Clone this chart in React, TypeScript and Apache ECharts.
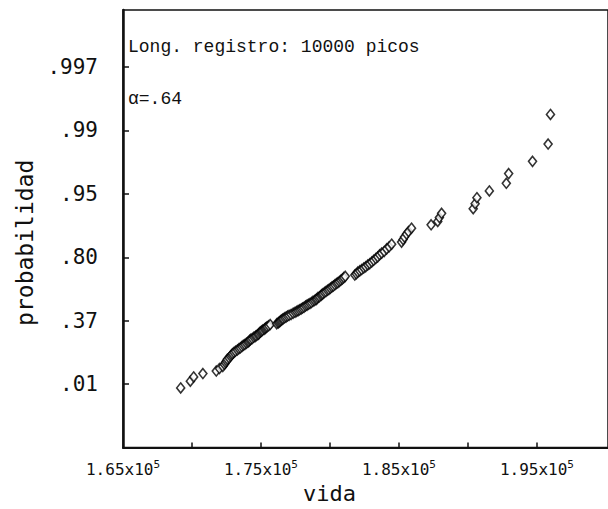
import React, { useEffect, useRef } from 'react';
import * as echarts from 'echarts';

// vida (x) and Gumbel reduced variate (y) for each plotted peak
const vida = [
  169180, 169880, 170120, 170790, 171760, 171990, 172230, 172350, 172430, 172500,
  172560, 172690, 172790, 172860, 172930, 173040, 173150, 173290, 173400, 173510,
  173620, 173720, 173830, 173940, 174050, 174120, 174190, 174260, 174370, 174480,
  174590, 174660, 174770, 174840, 174910, 174990, 175060, 175130, 175240, 175310,
  175380, 175450, 175560, 175670, 176140, 176250, 176320, 176390, 176460, 176540,
  176610, 176720, 176820, 176930, 177040, 177180, 177330, 177470, 177580, 177690,
  177800, 177910, 178010, 178120, 178230, 178340, 178440, 178550, 178660, 178770,
  178880, 178990, 179060, 179130, 179240, 179350, 179420, 179490, 179600, 179710,
  179820, 179920, 180030, 180140, 180250, 180360, 180470, 180570, 180680, 180790,
  180900, 181000, 181110, 181800, 181910, 182020, 182160, 182300, 182450, 182590,
  182740, 182880, 183030, 183170, 183320, 183460, 183600, 183750, 183930, 184110,
  184290, 184470, 185190, 185300, 185400, 185550, 185690, 185910, 187330, 187810,
  187930, 188090, 190380, 190520, 190650, 191550, 192780, 192950, 194680, 195810,
  195980,
];

const reducida = [
  -1.59, -1.43, -1.33, -1.25, -1.19, -1.13, -1.08, -1.03, -0.99, -0.95,
  -0.91, -0.88, -0.84, -0.81, -0.78, -0.75, -0.72, -0.69, -0.66, -0.64,
  -0.61, -0.58, -0.56, -0.53, -0.51, -0.49, -0.46, -0.44, -0.42, -0.39,
  -0.37, -0.35, -0.33, -0.31, -0.28, -0.26, -0.24, -0.22, -0.2, -0.18,
  -0.16, -0.14, -0.12, -0.09, -0.07, -0.05, -0.03, -0.01, 0.01, 0.03,
  0.05, 0.07, 0.09, 0.11, 0.13, 0.15, 0.18, 0.2, 0.22, 0.24,
  0.26, 0.28, 0.3, 0.32, 0.35, 0.37, 0.39, 0.41, 0.43, 0.46,
  0.48, 0.5, 0.52, 0.55, 0.57, 0.6, 0.62, 0.64, 0.67, 0.69,
  0.72, 0.74, 0.77, 0.8, 0.82, 0.85, 0.88, 0.9, 0.93, 0.96,
  0.99, 1.02, 1.05, 1.08, 1.11, 1.15, 1.18, 1.21, 1.25, 1.28,
  1.32, 1.35, 1.39, 1.43, 1.47, 1.51, 1.56, 1.6, 1.64, 1.7,
  1.75, 1.81, 1.86, 1.92, 1.98, 2.05, 2.11, 2.19, 2.27, 2.35,
  2.44, 2.54, 2.65, 2.77, 2.91, 3.07, 3.25, 3.48, 3.77, 4.18,
  4.88,
];

// probability tick labels at reduced-variate positions
const probPositions = [-1.5, 0, 1.5, 3, 4.5, 6];
const probLabels = ['.01', '.37', '.80', '.95', '.99', '.997'];

const xTickValues = [170000, 175000, 180000, 185000, 190000, 195000];
const xLabelValues = [165000, 175000, 185000, 195000];

const MONO = '"DejaVu Sans Mono", monospace';

export default function App() {
  const ref = useRef<HTMLDivElement>(null);

  useEffect(() => {
    if (!ref.current) return;
    const chart = echarts.init(ref.current, null, { renderer: 'svg' });
    const option = {
      animation: false,
      backgroundColor: '#ffffff',
      grid: {
        left: 123,
        right: -2,
        top: 10,
        bottom: 38,
        show: true,
        borderColor: '#111',
        borderWidth: 1.5,
        backgroundColor: 'transparent',
      },
      xAxis: {
        type: 'value',
        min: 165000,
        max: 200150,
        name: 'vida',
        nameLocation: 'middle',
        nameGap: 18,
        nameTextStyle: {
          fontFamily: MONO,
          fontSize: 22,
          color: '#111',
          padding: [0, 72, 0, 0],
        },
        axisLine: { show: true, onZero: false, lineStyle: { color: '#111', width: 2 } },
        axisTick: {
          show: true,
          inside: true,
          length: 5,
          customValues: xTickValues,
          lineStyle: { color: '#111', width: 1.5 },
        },
        axisLabel: {
          customValues: xLabelValues,
          margin: 11,
          color: '#111',
          formatter: (v: number) => `{a|${(v / 100000).toFixed(2)}x10}{b|5}`,
          rich: {
            a: { fontFamily: MONO, fontSize: 16, color: '#111' },
            b: { fontFamily: MONO, fontSize: 11, color: '#111', padding: [0, 0, 10, 0] },
          },
        },
        splitLine: { show: false },
      },
      yAxis: {
        type: 'value',
        min: -3,
        max: 7.35,
        name: 'probabilidad',
        nameLocation: 'middle',
        nameGap: 86,
        nameRotate: 90,
        nameTextStyle: { fontFamily: MONO, fontSize: 23, color: '#111', padding: [0, 28, 0, 0] },
        axisLine: { show: true, onZero: false, lineStyle: { color: '#111', width: 2.5 } },
        axisTick: {
          show: true,
          inside: true,
          length: 6,
          customValues: probPositions,
          lineStyle: { color: '#111', width: 1.5 },
        },
        axisLabel: {
          customValues: probPositions,
          margin: 25,
          color: '#111',
          fontFamily: MONO,
          fontSize: 21,
          formatter: (v: number) => {
            const i = probPositions.findIndex((p) => Math.abs(p - v) < 1e-6);
            return i >= 0 ? probLabels[i] : '';
          },
        },
        splitLine: { show: false },
      },
      graphic: [
        {
          type: 'text',
          left: 128,
          top: 38,
          style: {
            text: 'Long. registro: 10000 picos',
            fontFamily: '"Liberation Mono", monospace',
            fontSize: 18,
            fill: '#111',
          },
        },
        {
          type: 'text',
          left: 128,
          top: 90,
          style: {
            text: 'α=.64',
            fontFamily: '"Liberation Mono", monospace',
            fontSize: 18,
            fill: '#111',
          },
        },
      ],
      series: [
        {
          type: 'scatter',
          data: vida.map((v, i) => [v, reducida[i]]),
          symbol: 'diamond',
          symbolSize: [8, 10],
          itemStyle: { color: '#ffffff', borderColor: '#000', borderWidth: 1.6 },
        },
      ],
    };
    chart.setOption(option as any);
    return () => chart.dispose();
  }, []);

  return (
    <div
      ref={ref}
      style={{ position: 'fixed', left: 0, top: 0, width: 608, height: 509, background: '#fff' }}
    />
  );
}
